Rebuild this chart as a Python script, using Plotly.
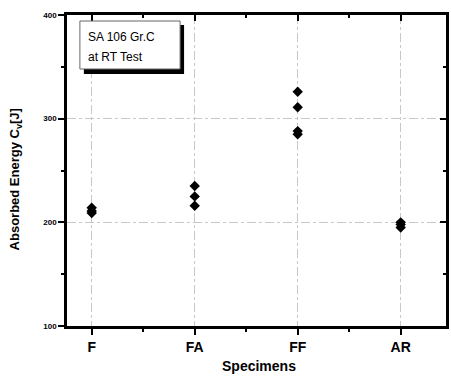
import plotly.graph_objects as go

categories = ["F", "FA", "FF", "AR"]
cat_pos = [1, 2, 3, 4]
F_vals = [214, 211, 209]
FA_vals = [235, 225, 216]
FF_vals = [326, 311, 288, 285]
AR_vals = [200, 198, 195]
y_ticks = [100, 200, 300, 400]

groups = [F_vals, FA_vals, FF_vals, AR_vals]
xs, ys = [], []
for p, vals in zip(cat_pos, groups):
    for v in vals:
        xs.append(p)
        ys.append(v)

W, H = 451, 376
L, R, T, B = 67, 2, 15, 50
pw, ph = W - L - R, H - T - B

def px2paper(x, y):
    return (x - L) / pw, (H - B - y) / ph

fig = go.Figure()
fig.add_trace(go.Scatter(x=xs, y=ys, mode="markers",
                         marker=dict(symbol="diamond", size=8, color="black"),
                         showlegend=False))
fig.add_trace(go.Scatter(x=[2], y=[250], xaxis="x2", yaxis="y2", mode="markers",
                         marker=dict(opacity=0), showlegend=False, hoverinfo="skip"))

xr = [0.76, 4.44]
yr = [100, 400]
fig.update_layout(
    width=W, height=H,
    margin=dict(l=L, r=R, t=T, b=B),
    plot_bgcolor="white", paper_bgcolor="white",
    font=dict(family="Liberation Sans, Arial", color="black"),
    xaxis=dict(range=xr, tickvals=cat_pos, ticktext=["<b>%s</b>" % c for c in categories],
               tickfont=dict(size=14, family="Liberation Sans, Arial"),
               ticks="outside", ticklen=6, tickwidth=2, tickcolor="black",
               showline=True, linewidth=2.5, linecolor="black", mirror=True,
               showgrid=True, gridcolor="#c8c8c8", gridwidth=1, griddash="dashdot",
               zeroline=False,
               minor=dict(tickvals=[1.5, 2.5, 3.5], ticks="outside", ticklen=3, tickcolor="black", tickwidth=1.5)),
    yaxis=dict(range=yr, tickvals=y_ticks, ticktext=["<b>%d</b>" % v for v in y_ticks],
               tickfont=dict(size=8),
               ticks="outside", ticklen=6, tickwidth=2, tickcolor="black",
               showline=True, linewidth=2.5, linecolor="black", mirror=True,
               showgrid=True, gridcolor="#c8c8c8", gridwidth=1, griddash="dashdot",
               zeroline=False,
               minor=dict(tickvals=[150, 250, 350], ticks="outside", ticklen=3, tickcolor="black", tickwidth=1.5)),
    xaxis2=dict(range=xr, overlaying="x", side="top", tickvals=cat_pos, showticklabels=False,
                ticks="inside", ticklen=6, tickwidth=2, tickcolor="black", showgrid=False, zeroline=False,
                minor=dict(tickvals=[1.5, 2.5, 3.5], ticks="inside", ticklen=3, tickcolor="black", tickwidth=1.5)),
    yaxis2=dict(range=yr, overlaying="y", side="right", tickvals=y_ticks, showticklabels=False,
                ticks="inside", ticklen=6, tickwidth=2, tickcolor="black", showgrid=False, zeroline=False,
                minor=dict(tickvals=[150, 250, 350], ticks="inside", ticklen=3, tickcolor="black", tickwidth=1.5)),
)

# axis titles
ax, ay = px2paper(261, 366)
fig.add_annotation(xref="paper", yref="paper", x=ax, y=ay, xanchor="center", yanchor="middle",
                   text="<b>Specimens</b>", showarrow=False, font=dict(size=14, color="black"))
yx, yy = px2paper(15, 179)
fig.add_annotation(xref="paper", yref="paper", x=yx, y=yy, xanchor="center", yanchor="middle",
                   text="<b>Absorbed Energy C<sub>v</sub>[J]</b>", showarrow=False, textangle=-90,
                   font=dict(size=13, color="black"))

sx0, sy0 = px2paper(84, 25)
sx1, sy1 = px2paper(185, 74)
bx0, by0 = px2paper(80, 21)
bx1, by1 = px2paper(181, 69)
fig.add_shape(type="rect", xref="paper", yref="paper", x0=sx0, y0=sy1, x1=sx1, y1=sy0,
              fillcolor="black", line=dict(width=0), layer="above")
fig.add_shape(type="rect", xref="paper", yref="paper", x0=bx0, y0=by1, x1=bx1, y1=by0,
              fillcolor="white", line=dict(color="#666666", width=1), layer="above")
for line_text, py in [("SA 106 Gr.C", 37), ("at RT Test", 57)]:
    tx, ty = px2paper(86, py)
    fig.add_annotation(xref="paper", yref="paper", x=tx, y=ty, xanchor="left", yanchor="middle",
                       text=line_text, showarrow=False, align="left",
                       font=dict(size=12, color="black"))

fig.write_html("out.html")
